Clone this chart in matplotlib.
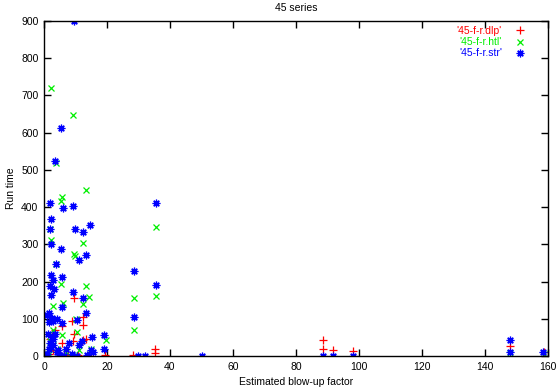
import matplotlib
matplotlib.use("Agg")
import matplotlib.pyplot as plt

plt.rcParams['font.family'] = ['Liberation Sans', 'DejaVu Sans']

title = "45 series"
xlabel = "Estimated blow-up factor"
ylabel = "Run time"
labels = ["'45-f-r.dlp'", "'45-f-r.htl'", "'45-f-r.str'"]

dlp_x = [9.6, 12.5, 9.0, 12.3, 3.5, 5.8, 9.6, 13.2, 12.5, 9.3, 5.8, 2.5, 3.0, 4.0, 6.5,
         10.9, 19.4, 28.4, 35.3, 35.3, 88.7, 88.7, 91.8, 98.0, 148.0, 158.7, 1.5, 7.5,
         15.0, 2.0, 13.9, 2.5]
dlp_y = [156, 106, 95, 83, 70, 80, 59, 45, 43, 40, 36, 25, 15, 10, 5,
         2, 2, 3, 20, 9, 43, 19, 16, 14, 27, 11, 5, 3,
         12, 45, 0, 54]

htl_x = [2.1, 9.2, 13.2, 5.7, 3.8, 5.4, 2.1, 12.3, 1.9, 9.4, 9.8, 13.3, 5.3, 3.8, 14.4,
         12.3, 5.9, 2.8, 10.3, 5.7, 10.6, 2.95, 19.7, 28.7, 28.7, 35.4, 35.4, 148.0,
         158.7, 2.0, 4.0, 7.0, 11.0, 15.0, 1.5, 3.0]
htl_y = [719, 647, 446, 427, 518, 417, 311, 304, 341, 274, 269, 188, 193, 247, 158,
         140, 142, 134, 100, 57, 65, 70, 43, 155, 70, 347, 161, 8,
         5, 40, 20, 10, 15, 18, 5, 30]

str_x = [9.5, 5.4, 3.5, 2.0, 6.0, 9.2, 2.1, 1.8, 9.7, 12.4, 14.5, 2.1, 5.4, 3.7, 13.3,
         11.0, 2.1, 2.95, 5.6, 3.2, 2.0, 2.2, 9.1, 12.3, 13.2, 5.6, 1.7, 2.6, 5.6, 10.6,
         3.0, 4.0, 1.5, 28.7, 28.7, 35.4, 35.4, 19.1, 15.2, 19.1, 50.0, 88.7, 91.8, 98.0,
         148.0, 148.0, 158.4, 29.7, 32.2, 1.0, 1.5, 2.0, 2.5, 3.0, 4.0, 5.0, 6.5, 8.0,
         9.0, 10.5, 12.0, 14.0, 15.5, 1.2, 2.8, 4.5, 7.0, 11.0, 13.5, 3.5, 1.0, 2.2, 15.0]
str_y = [900, 612, 524, 410, 398, 402, 368, 342, 341, 333, 351, 300, 287, 247, 271,
         258, 217, 204, 212, 180, 188, 164, 172, 156, 116, 132, 115, 102, 89, 97,
         95, 100, 92, 228, 105, 411, 191, 56, 51, 18, 0, 0, 0, 0,
         43, 12, 10, 0, 0, 5, 20, 35, 50, 30, 10, 2, 0, 35,
         5, 0, 40, 0, 10, 60, 45, 15, 20, 30, 2, 60, 110, 25, 15]

fig = plt.figure(figsize=(5.59, 3.92), dpi=100)
ax = fig.add_axes([44/559, 1-356/392, (548-44)/559, (356-21)/392])

ax.plot(dlp_x, dlp_y, linestyle='none', marker='+', ms=6, mew=0.9, color='#ff0000', label=labels[0])
ax.plot(htl_x, htl_y, linestyle='none', marker='x', ms=4, mew=0.9, color='#00ee00', label=labels[1])
ax.plot(str_x, str_y, linestyle='none', marker=(8, 2, 0), ms=5.5, mew=0.9, color='#0000ff', label=labels[2])

ax.set_xlim(0, 160)
ax.set_ylim(0, 900)
ax.set_xticks(range(0, 161, 20))
ax.set_yticks(range(0, 901, 100))
ax.tick_params(direction='in', length=5, width=1, top=True, right=True, labelsize=7.5, pad=4)
for s in ax.spines.values():
    s.set_linewidth(1)
ax.set_title(title, fontsize=7.5, pad=7)
ax.set_xlabel(xlabel, fontsize=7.5, labelpad=4)
ax.set_ylabel(ylabel, fontsize=7.5, labelpad=4)

leg = ax.legend(loc='upper right', bbox_to_anchor=(528/559, 1-26/392), bbox_transform=fig.transFigure,
                frameon=False, markerfirst=False, fontsize=7.5,
                labelcolor='linecolor', handlelength=1.6, handletextpad=0.9,
                labelspacing=0.12, borderaxespad=0.0, borderpad=0.0)
for t in leg.get_texts():
    t.set_ha('right')

fig.savefig("out.png", dpi=100)
